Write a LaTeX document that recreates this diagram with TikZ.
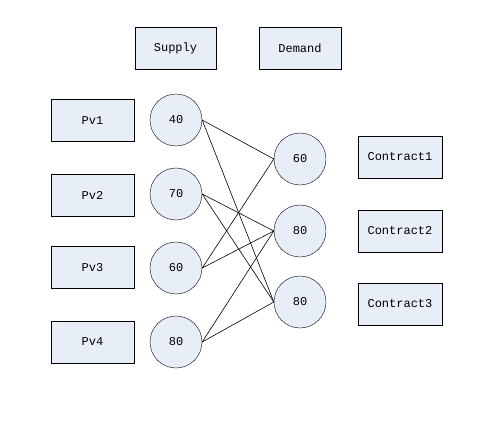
\documentclass[tikz,border=0pt]{standalone}
\usepackage{fontspec}
\setmainfont{Liberation Mono}
\begin{document}
\begin{tikzpicture}[x=1pt,y=-1pt,
  box/.style={draw=black,fill=boxfill,minimum width=83pt,minimum height=42pt,inner sep=0pt,font=\fontsize{12}{14}\selectfont},
  circ/.style={draw=black,fill=boxfill,circle,minimum size=52pt,inner sep=0pt,font=\fontsize{12}{14}\selectfont},
  link/.style={draw=black,line width=0.6pt}]
\definecolor{boxfill}{HTML}{E8EEF8}
\useasboundingbox (0,0) rectangle (501,423);
\node[box,minimum width=81pt] (supply) at (175.5,48) {Supply};
\node[box,minimum width=82pt] (demand) at (300,48) {Demand};
\node[box] (pv1) at (92.5,120.5) {Pv1};
\node[box] (pv2) at (92.5,195.5) {Pv2};
\node[box] (pv3) at (92.5,267.5) {Pv3};
\node[box] (pv4) at (92.5,342) {Pv4};
\node[circ] (s1) at (176,120) {40};
\node[circ] (s2) at (176,194) {70};
\node[circ] (s3) at (176,268) {60};
\node[circ] (s4) at (176,342) {80};
\node[circ] (d1) at (300,159) {60};
\node[circ] (d2) at (300,231) {80};
\node[circ] (d3) at (300,302) {80};
\node[box,minimum width=84pt] (c1) at (400,157) {Contract1};
\node[box,minimum width=84pt] (c2) at (400,231) {Contract2};
\node[box,minimum width=84pt] (c3) at (400,304) {Contract3};
\draw[link] (s1.east) -- (d1.west);
\draw[link] (s1.east) -- (d3.west);
\draw[link] (s2.east) -- (d2.west);
\draw[link] (s2.east) -- (d3.west);
\draw[link] (s3.east) -- (d1.west);
\draw[link] (s3.east) -- (d2.west);
\draw[link] (s4.east) -- (d2.west);
\draw[link] (s4.east) -- (d3.west);
\end{tikzpicture}
\end{document}
